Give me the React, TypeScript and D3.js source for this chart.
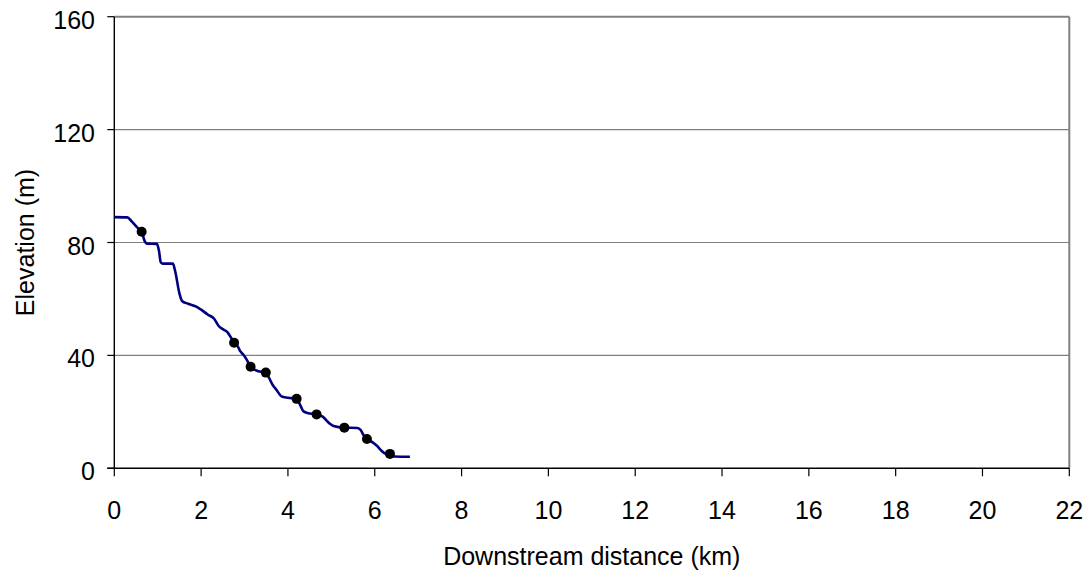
import React from "react";
import * as d3 from "d3";

// Longitudinal river profile: distance downstream (km) vs bed elevation (m)
const profileKm = [
  0, 0.3, 0.4, 0.55, 0.63, 0.7, 0.75, 0.98, 1.03, 1.07, 1.12, 1.35, 1.4, 1.5, 1.56,
  1.7, 1.9, 2.0, 2.15, 2.3, 2.4, 2.5, 2.6, 2.7, 2.76, 2.85, 2.9, 2.97, 3.05, 3.14,
  3.3, 3.49, 3.55, 3.65, 3.75, 3.85, 4.0, 4.2, 4.28, 4.35, 4.45, 4.66, 4.8, 4.95,
  5.05, 5.3, 5.6, 5.68, 5.75, 5.82, 5.95, 6.05, 6.15, 6.25, 6.35, 6.45, 6.81,
];
const profileElev = [
  89, 88.9, 87.5, 85, 83.8, 80.5, 79.6, 79.5, 77, 73, 72.5, 72.5, 70, 62, 59.3,
  58.3, 57.2, 56.2, 54.5, 53, 50.5, 49.3, 48.3, 46, 44.5, 43, 41.5, 40.3, 38.5, 36,
  34.5, 33.9, 32.5, 29.5, 27.5, 25.5, 25, 24.6, 22.5, 20.3, 19.6, 19.1, 18.3, 16,
  15, 14.4, 14.3, 13.5, 11.5, 10.4, 9.2, 8, 6.3, 5.2, 5.1, 4.2, 4.1,
];

// Surveyed sites marked along the profile
const siteKm = [0.63, 2.76, 3.14, 3.49, 4.2, 4.66, 5.3, 5.82, 6.35];
const siteElev = [83.8, 44.5, 36.0, 33.9, 24.6, 19.1, 14.4, 10.4, 5.1];

const xTicks = [0, 2, 4, 6, 8, 10, 12, 14, 16, 18, 20, 22];
const yTicks = [0, 40, 80, 120, 160];

const xTitle = "Downstream distance (km)";
const yTitle = "Elevation (m)";

const W = 1091;
const H = 576;
const plot = { left: 114.3, right: 1069.3, top: 16.7, bottom: 468.3 };
const FONT = "'Liberation Sans', Arial, sans-serif";
const FS = 25;

export default function App() {
  const x = d3.scaleLinear().domain([0, 22]).range([plot.left, plot.right]);
  const y = d3.scaleLinear().domain([0, 160]).range([plot.bottom, plot.top]);

  const pts: [number, number][] = profileKm.map((k, i) => [k, profileElev[i]]);
  const line = d3
    .line<[number, number]>()
    .x((d) => x(d[0]))
    .y((d) => y(d[1]))
    .curve(d3.curveMonotoneX);

  return (
    <div style={{ position: "fixed", left: 0, top: 0 }}>
      <svg width={W} height={H} style={{ display: "block", background: "#fff" }}>
        {/* horizontal gridlines */}
        {yTicks
          .filter((t) => t > 0)
          .map((t) => (
            <line
              key={"g" + t}
              x1={plot.left}
              x2={plot.right}
              y1={y(t)}
              y2={y(t)}
              stroke="#808080"
              strokeWidth={t === 160 ? 2 : 1.2}
            />
          ))}
        {/* right border */}
        <line
          x1={plot.right}
          x2={plot.right}
          y1={plot.top}
          y2={plot.bottom}
          stroke="#808080"
          strokeWidth={2}
        />
        {/* axes */}
        <line x1={plot.left} x2={plot.left} y1={plot.top} y2={plot.bottom} stroke="#000" strokeWidth={1.4} />
        <line x1={plot.left - 7} x2={plot.right} y1={plot.bottom} y2={plot.bottom} stroke="#000" strokeWidth={1.4} />
        {yTicks.map((t) => (
          <g key={"y" + t}>
            <line x1={plot.left - 7} x2={plot.left} y1={y(t)} y2={y(t)} stroke="#000" strokeWidth={1.2} />
            <text
              x={95}
              y={y(t) + 3}
              textAnchor="end"
              dominantBaseline="central"
              fontFamily={FONT}
              fontSize={FS}
              fill="#000"
            >
              {t}
            </text>
          </g>
        ))}
        {xTicks.map((t) => (
          <g key={"x" + t}>
            <line x1={x(t)} x2={x(t)} y1={plot.bottom} y2={plot.bottom + 8} stroke="#000" strokeWidth={1.2} />
            <text x={x(t)} y={519} textAnchor="middle" fontFamily={FONT} fontSize={FS} fill="#000">
              {t}
            </text>
          </g>
        ))}
        {/* profile line */}
        <path d={line(pts) ?? ""} fill="none" stroke="#000080" strokeWidth={2.6} strokeLinejoin="round" />
        {/* site markers */}
        {siteKm.map((k, i) => (
          <circle key={"s" + i} cx={x(k)} cy={y(siteElev[i])} r={5} fill="#000" />
        ))}
        {/* axis titles */}
        <text
          x={(plot.left + plot.right) / 2}
          y={565}
          textAnchor="middle"
          fontFamily={FONT}
          fontSize={FS}
          fill="#000"
        >
          {xTitle}
        </text>
        <text
          transform={`translate(34, ${(plot.top + plot.bottom) / 2}) rotate(-90)`}
          textAnchor="middle"
          fontFamily={FONT}
          fontSize={FS}
          fill="#000"
        >
          {yTitle}
        </text>
      </svg>
    </div>
  );
}
